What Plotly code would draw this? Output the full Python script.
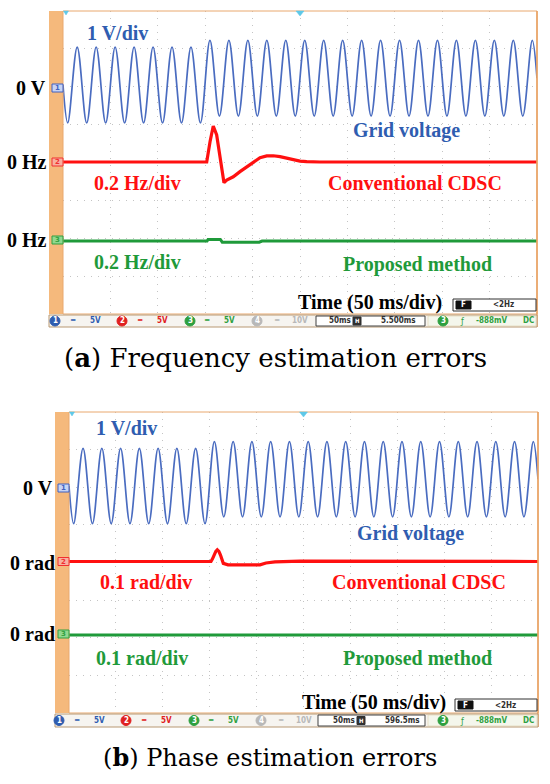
import plotly.graph_objects as go

# ---------------- data ----------------
# grid voltage extrema (ms, V) – same test signal in both panels
grid_t_ms = [0, 5, 15, 25, 35, 45, 55, 65, 75, 85, 95, 105, 115, 125, 135, 145,
             155, 165, 175, 185, 195, 205, 215, 225, 235, 245, 255, 265, 275, 285,
             295, 305, 315, 325, 335, 345, 355, 365, 375, 385, 395, 405, 415, 425,
             435, 445, 455, 465, 475, 485, 495, 500]
grid_v = [0.0, -1.0, 1.0, -1.0, 1.0, -1.0, 1.0, -1.0, 1.0, -1.0, 1.0, -1.0, 1.0, -1.0, 1.0, -1.0,
          1.18, -0.82, 1.18, -0.82, 1.18, -0.82, 1.18, -0.82, 1.18, -0.82, 1.18, -0.82, 1.18, -0.82,
          1.18, -0.82, 1.18, -0.82, 1.18, -0.82, 1.18, -0.82, 1.18, -0.82, 1.18, -0.82, 1.18, -0.82,
          1.18, -0.82, 1.18, -0.82, 1.18, -0.82, 1.18, 0.18]

# (a) frequency estimation error, conventional CDSC (ms, Hz)
freq_cdsc_t = [0, 151.6, 155.1, 158.5, 162.1, 165.6, 168.5, 169.8, 172.7, 179.6, 186.7, 193.8,
               200.7, 207.8, 214.9, 221.8, 228.9, 236.0, 242.9, 250.0, 257.1, 271, 500]
freq_cdsc_hz = [0, 0, 0.107, 0.190, 0.143, 0.020, -0.084, -0.109, -0.095, -0.078, -0.051, -0.025,
                0.002, 0.023, 0.032, 0.033, 0.028, 0.020, 0.011, 0.005, 0.002, 0, 0]
# (a) frequency estimation error, proposed method (ms, Hz)
freq_prop_t = [0, 152, 153, 166, 168, 207, 210, 500]
freq_prop_hz = [0, 0, 0.008, 0.008, -0.006, -0.006, 0, 0]

# (b) phase estimation error, conventional CDSC (ms, rad)
phase_cdsc_t = [0, 151.4, 153, 154.6, 156.5, 158.1, 159.8, 161.5, 163, 164.5, 169.5, 203.6, 210, 219.6, 246.3, 500]
phase_cdsc_rad = [0, 0, 0.007, 0.017, 0.027, 0.031, 0.027, 0.017, 0.006, -0.005, -0.009, -0.009, -0.004, -0.001, 0.001, 0]
# (b) phase estimation error, proposed method (ms, rad)
phase_prop_t = [0, 153, 156, 161, 164, 500]
phase_prop_rad = [0, 0, 0.002, 0.002, 0, 0]

# ---------------- layout helpers (pixels) ----------------
W, H = 550, 784
def fx(p): return p / W
def fy(p): return 1 - p / H

BLUE = "#4A6CC0"
BLUE_T = "#2F5DB0"
RED = "#FF1010"
GREEN = "#1F9A3A"
ORANGE = "#F5B97C"
GRIDC = "#C4C4C4"

panels = [
    dict(x0=63, x1=537, y0=11, y1=314, v0=85, c0=162, p0=241, per=0.2, bar=(315, 327)),
    dict(x0=69, x1=538, y0=412, y1=713, v0=486, c0=561.5, p0=635, per=0.1, bar=(714, 727)),
]

def yr(zero_px, P, per_div):
    d = (P["y1"] - P["y0"]) / 8.0
    return [-(P["y1"] - zero_px) / d * per_div, (zero_px - P["y0"]) / d * per_div]

fig = go.Figure()
lay = dict(width=W, height=H, margin=dict(l=0, r=0, t=0, b=0),
           paper_bgcolor="white", plot_bgcolor="white", showlegend=False)

series = [
    (grid_t_ms, grid_v, freq_cdsc_t, freq_cdsc_hz, freq_prop_t, freq_prop_hz),
    (grid_t_ms, grid_v, phase_cdsc_t, phase_cdsc_rad, phase_prop_t, phase_prop_rad),
]

for i, P in enumerate(panels):
    xa = "xaxis" if i == 0 else "xaxis2"
    xn = "x" if i == 0 else "x2"
    yv, yc, yp = (1, 2, 3) if i == 0 else (4, 5, 6)
    vr = yr(P["v0"], P, 1.0)
    lay[xa] = dict(domain=[fx(P["x0"]), fx(P["x1"])], range=[0, 500], anchor=f"y{yv}" if yv > 1 else "y",
                   showgrid=True, gridcolor=GRIDC, griddash="1px,6px", gridwidth=1, dtick=50, tick0=0,
                   showticklabels=False, ticks="", zeroline=False, showline=False, fixedrange=True)
    lay["yaxis" if yv == 1 else f"yaxis{yv}"] = dict(
        domain=[fy(P["y1"]), fy(P["y0"])], range=vr, anchor=xn,
        showgrid=True, gridcolor=GRIDC, griddash="1px,6px", gridwidth=1, dtick=1, tick0=vr[1],
        showticklabels=False, ticks="", zeroline=False, showline=False, fixedrange=True)
    base = "y" if yv == 1 else f"y{yv}"
    lay[f"yaxis{yc}"] = dict(overlaying=base, anchor=xn, range=yr(P["c0"], P, P["per"]), visible=False)
    lay[f"yaxis{yp}"] = dict(overlaying=base, anchor=xn, range=yr(P["p0"], P, P["per"]), visible=False)

    gt, gv, ct, cv, pt, pv = series[i]
    fig.add_trace(go.Scatter(x=gt, y=gv, mode="lines", xaxis=xn, yaxis=base, hoverinfo="skip",
                             line=dict(color=BLUE, width=1.7, shape="spline", smoothing=1)))
    fig.add_trace(go.Scatter(x=ct, y=cv, mode="lines", xaxis=xn, yaxis=f"y{yc}", hoverinfo="skip",
                             line=dict(color=RED, width=3.2, shape="linear")))
    fig.add_trace(go.Scatter(x=pt, y=pv, mode="lines", xaxis=xn, yaxis=f"y{yp}", hoverinfo="skip",
                             line=dict(color=GREEN, width=3, shape="linear")))

fig.update_layout(**lay)

shapes = []
ann = []

def text(x, y, s, size=20, color="black", family="Liberation Serif", anchor="center", bold=True):
    ann.append(dict(x=fx(x), y=fy(y), xref="paper", yref="paper", text=(f"<b>{s}</b>" if bold else s),
                    showarrow=False, xanchor=anchor, yanchor="middle",
                    font=dict(size=size, color=color, family=family)))

def rect(x0, y0, x1, y1, fill=None, line=None, lw=1, layer="above"):
    shapes.append(dict(type="rect", xref="paper", yref="paper", x0=fx(x0), x1=fx(x1), y0=fy(y1), y1=fy(y0),
                       fillcolor=fill or "rgba(0,0,0,0)", line=dict(color=line or "rgba(0,0,0,0)", width=lw),
                       layer=layer))

def circ(cx, cy, r, fill, line=None):
    shapes.append(dict(type="circle", xref="paper", yref="paper", x0=fx(cx - r), x1=fx(cx + r),
                       y0=fy(cy + r), y1=fy(cy - r), fillcolor=fill, line=dict(color=line or fill, width=1)))

def tri(cx, top, w, h, color):
    path = f"M {fx(cx - w/2)} {fy(top)} L {fx(cx + w/2)} {fy(top)} L {fx(cx)} {fy(top + h)} Z"
    shapes.append(dict(type="path", xref="paper", yref="paper", path=path, fillcolor=color,
                       line=dict(color=color, width=0.5)))

for i, P in enumerate(panels):
    x0, x1, y0, y1 = P["x0"], P["x1"], P["y0"], P["y1"]
    sx = x0 - 14
    # orange strip and frame
    rect(sx, y0, x0, y1, fill=ORANGE, layer="below")
    rect(x0, y0, x1, y1, line="#E9A86E", lw=1)
    shapes.append(dict(type="line", xref="paper", yref="paper", x0=fx(x1), x1=fx(x1),
                       y0=fy(P["bar"][1]), y1=fy(y0), line=dict(color="#E9A060", width=1.5)))
    # trigger markers
    tri(x0 + 5 * (x1 - x0) / 10, y0, 8, 5, "#5EC8E8")
    tri(x0 + 3, y0, 5, 4, "#5EC8E8")
    # channel markers
    for cy, col, fillc, lab in [(P["v0"] + 3 if i == 0 else P["v0"] + 2, "#4060C0", "#C8D4F4", "1"),
                                (P["c0"], "#F03030", "#F8B0A0", "2"),
                                (P["p0"] - 1, "#30A040", "#90D890", "3")]:
        rect(x0 - 11, cy - 4, x0, cy + 4, fill=fillc, line=col, lw=1)
        text(x0 - 5.5, cy, lab, size=7, color=col, family="DejaVu Sans", bold=True)
    # status bar
    b0, b1 = P["bar"]
    bm = (b0 + b1) / 2
    rect(sx, b0, x1, b1, fill="#F6F4F0", line="#B89872", lw=1)
    off = 0 if i == 0 else 4
    sf = "DejaVu Sans Condensed"
    items = [(55, BLUE_T, "1"), (122, "#E02020", "2"), (190, "#2EA040", "3"), (257, "#B8B8B8", "4")]
    for cx, col, lab in items:
        circ(cx + off, bm, 5, col)
        text(cx + off, bm, lab, size=8, color="white", family=sf)
    for cx, col, s in [(73, BLUE_T, "═"), (95, BLUE_T, "5V"), (140, "#E02020", "═"), (162, "#E02020", "5V"),
                       (207, "#2EA040", "═"), (229, "#2EA040", "5V"), (277, "#B8B8B8", "═"), (300, "#B8B8B8", "10V")]:
        text(cx + off, bm, s, size=8, color=col, family=sf)
    rect(316 + off / 2, b0 + 1, 425, b1 - 1, fill="#FFFFFF", line="#404040", lw=1)
    rect(428, b0 + 1, x1 - 1, b1 - 1, fill="#F4F6EC", line="#D8C8A0", lw=0.5)
    text(340 + off, bm, "50ms", size=8, color="#303030", family=sf)
    rect(353 + off, bm - 4, 361 + off, bm + 4, fill="#303030", line="#303030")
    text(357 + off, bm, "H", size=6, color="white", family=sf)
    text(398 + off, bm, "5.500ms" if i == 0 else "596.5ms", size=8, color="#303030", family=sf)
    circ(443, bm, 5, "#2EA040")
    text(443, bm, "3", size=8, color="white", family=sf)
    text(462, bm, "ƒ", size=9, color="#2EA040", family=sf, bold=False)
    text(492, bm, "-888mV", size=8, color="#2EA040", family=sf)
    text(528, bm, "DC", size=8, color="#2EA040", family=sf)
    # F box
    fb0 = 299 if i == 0 else 699
    shapes.append(dict(type="rect", xref="paper", yref="paper", x0=fx(453 + off / 2), x1=fx(x1 - 1),
                       y0=fy(fb0 + 12), y1=fy(fb0), fillcolor="white", line=dict(color="#303030", width=1)))
    rect(456 + off / 2, fb0 + 2, 471 + off / 2, fb0 + 10, fill="#101010", line="#101010")
    text(463 + off / 2, fb0 + 6, "F", size=8, color="white", family=sf)
    text(503 + off / 2, fb0 + 6, "&lt;2Hz", size=8, color="#303030", family=sf)

# labels panel (a)
text(117, 33, "1 V/div", color=BLUE_T)
text(31, 88, "0 V")
text(406, 130, "Grid voltage", color=BLUE_T)
text(27, 162, "0 Hz")
text(137, 183, "0.2 Hz/div", color=RED)
text(415, 183, "Conventional CDSC", color=RED)
text(27, 240, "0 Hz")
text(137, 262, "0.2 Hz/div", color=GREEN)
text(417, 264, "Proposed method", color=GREEN)
text(370, 302, "Time (50 ms/div)")
text(275, 358, "(<b>a</b>) Frequency estimation errors", size=26, family="DejaVu Serif", bold=False)

# labels panel (b)
text(126, 428, "1 V/div", color=BLUE_T)
text(38, 488, "0 V")
text(410, 533, "Grid voltage", color=BLUE_T)
text(32, 563, "0 rad")
text(146, 582, "0.1 rad/div", color=RED)
text(419, 582, "Conventional CDSC", color=RED)
text(32, 634, "0 rad")
text(142, 658, "0.1 rad/div", color=GREEN)
text(417, 658, "Proposed method", color=GREEN)
text(374, 702, "Time (50 ms/div)")
text(270, 757, "(<b>b</b>) Phase estimation errors", size=24, family="DejaVu Serif", bold=False)

fig.update_layout(shapes=shapes, annotations=ann)
fig.write_html("out.html", config={"displayModeBar": False, "staticPlot": True},
               post_script="document.body.style.margin='0px';document.body.style.overflow='hidden';")
